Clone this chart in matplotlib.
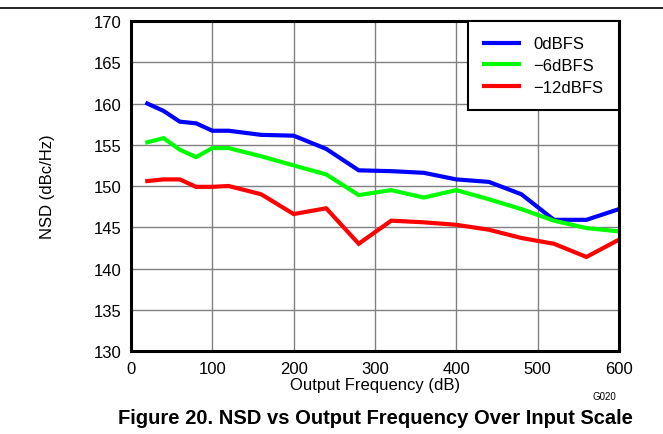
import matplotlib
matplotlib.use("Agg")
import matplotlib.pyplot as plt

plt.rcParams['font.family'] = ['Liberation Sans', 'DejaVu Sans']

freq = [20, 40, 60, 80, 100, 120, 160, 200, 240, 280, 320, 360, 400, 440, 480, 520, 560, 600]
nsd_0 = [160.0, 159.1, 157.8, 157.6, 156.7, 156.7, 156.2, 156.1, 154.5, 151.9, 151.8, 151.6, 150.8, 150.5, 149.0, 145.9, 145.9, 147.2]
nsd_6 = [155.3, 155.8, 154.4, 153.5, 154.6, 154.6, 153.6, 152.5, 151.4, 148.9, 149.5, 148.6, 149.5, 148.4, 147.2, 145.8, 144.9, 144.5]
nsd_12 = [150.6, 150.8, 150.8, 149.9, 149.9, 150.0, 149.0, 146.6, 147.3, 143.0, 145.8, 145.6, 145.3, 144.7, 143.7, 143.0, 141.4, 143.5]
labels = ['0dBFS', '\u22126dBFS', '\u221212dBFS']
colors = ['#0000ff', '#00ff00', '#ff0000']

fig = plt.figure(figsize=(6.63, 4.35), dpi=100)
ax = fig.add_axes([0.1976, 0.1908, 0.736, 0.7586])

for y, lab, c in zip([nsd_0, nsd_6, nsd_12], labels, colors):
    ax.plot(freq, y, color=c, lw=3, label=lab, solid_joinstyle='miter')

ax.set_xlim(0, 600)
ax.set_ylim(130, 170)
ax.set_xticks(range(0, 601, 100))
ax.set_yticks(range(130, 171, 5))
ax.grid(True, color='#808080', lw=1)
ax.tick_params(length=0, labelsize=12, pad=7)
for s in ax.spines.values():
    s.set_linewidth(2.2)

ax.set_xlabel('Output Frequency (dB)', fontsize=12, labelpad=1)
ax.set_ylabel('NSD (dBc/Hz)', fontsize=12)
ax.yaxis.set_label_coords(-0.156, 0.5)

leg = ax.legend(loc='upper right', fontsize=12, frameon=True, fancybox=False,
                borderaxespad=0, handlelength=2.15, borderpad=0.92, labelspacing=0.4,
                handletextpad=0.85)
leg.get_frame().set_edgecolor('black')
leg.get_frame().set_linewidth(1.5)
leg.get_frame().set_alpha(1)

fig.text(0.911, 0.087, 'G020', fontsize=7, ha='center', va='center')
fig.text(0.566, 0.039, 'Figure 20. NSD vs Output Frequency Over Input Scale',
         fontsize=14.5, fontweight='bold', ha='center', va='center')
fig.add_artist(plt.Line2D([0, 1], [0.979, 0.979], transform=fig.transFigure, color='black', lw=1.2))

fig.savefig('out.png', dpi=100)
